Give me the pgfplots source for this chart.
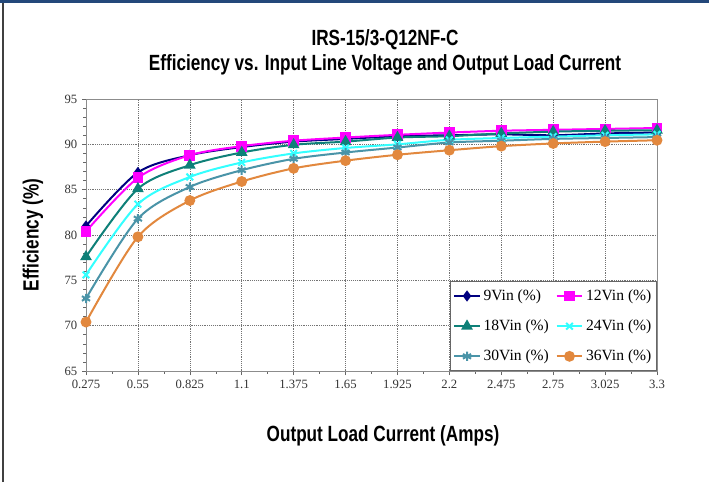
\documentclass[border=0pt]{standalone}
\usepackage{fontspec}
\setmainfont{Liberation Serif}
\newfontfamily\headfont{Liberation Sans}[FakeStretch=0.78]
\usepackage{pgfplots}
\pgfplotsset{compat=1.18}

\definecolor{v9}{HTML}{000080}
\definecolor{v12}{HTML}{FF00FF}
\definecolor{v18}{HTML}{0E8078}
\definecolor{v24}{HTML}{33FFFF}
\definecolor{v30}{HTML}{4A94A8}
\definecolor{v36}{HTML}{E2883E}
\definecolor{topbar}{HTML}{23487A}

\begin{document}
\begin{tikzpicture}
% page frame (709 x 482 px at 0.75pt/px)
\fill[white] (0,0) rectangle (531.75pt,361.5pt);
\fill[topbar] (0,359.25pt) rectangle (531.75pt,361.5pt);
\draw[line width=1.2pt,black!75] (2.4pt,0) -- (2.4pt,359.25pt);

\tikzset{head/.style={font=\headfont\bfseries\fontsize{16.5}{18}\selectfont}}
\node[head] at (288.75pt,331.5pt) {IRS-15/3-Q12NF-C};
\node[head] at (288.75pt,312.5pt) {Efficiency vs. Input Line Voltage and Output Load Current};
\node[head] at (287.25pt,34.5pt) {Output Load Current (Amps)};
\node[head,rotate=90] at (24.75pt,185.25pt) {Efficiency (\%)};

\begin{axis}[
  at={(64.5pt,83.25pt)}, anchor=south west,
  scale only axis, width=428.25pt, height=204pt,
  xmin=0.275, xmax=3.3, ymin=65, ymax=95,
  xtick={0.275,0.55,0.825,1.1,1.375,1.65,1.925,2.2,2.475,2.75,3.025,3.3},
  xticklabels={0.275,0.55,0.825,1.1,1.375,1.65,1.925,2.2,2.475,2.75,3.025,3.3},
  ytick={65,70,75,80,85,90,95},
  minor x tick num=1, minor y tick num=4,
  tick pos=left, tick align=outside,
  major tick length=3pt, minor tick length=2pt,
  tick style={black!60, thin},
  axis line style={black!45},
  grid=major, major grid style={densely dotted, black!55},
  tick label style={font=\fontsize{9.5}{11}\selectfont, text=black!80},
  /pgf/number format/assume math mode=true,
  legend columns=2,
  legend cell align=left,
  legend style={at={(1,0)}, anchor=south east,
    font=\fontsize{11.7}{13}\selectfont, draw=black!60, fill=white,
    inner xsep=2pt, inner ysep=4pt, row sep=9pt,
    /tikz/every even column/.append style={column sep=3pt}},
  legend image code/.code={\draw[mark repeat=2,mark phase=2]
    plot coordinates {(0cm,0cm) (0.34cm,0cm) (0.68cm,0cm)};},
  every axis plot/.append style={line width=1.5pt, smooth},
]
\addplot[v9, mark=diamond*, mark size=3pt] coordinates {
(0.275,81.0) (0.55,86.9) (0.825,88.8) (1.1,89.7) (1.375,90.3) (1.65,90.6)
(1.925,90.9) (2.2,91.0) (2.475,91.1) (2.75,91.0) (3.025,91.2) (3.3,91.3)};
\addlegendentry{9Vin (\%)}
\addplot[v12, mark=square*, mark size=3.3pt] coordinates {
(0.275,80.4) (0.55,86.3) (0.825,88.8) (1.1,89.8) (1.375,90.4) (1.65,90.75)
(1.925,91.05) (2.2,91.3) (2.475,91.5) (2.75,91.6) (3.025,91.7) (3.3,91.8)};
\addlegendentry{12Vin (\%)}
\addplot[v18, mark=triangle*, mark size=3.6pt] coordinates {
(0.275,77.6) (0.55,85.1) (0.825,87.7) (1.1,89.1) (1.375,89.95) (1.65,90.3)
(1.925,90.75) (2.2,90.9) (2.475,91.2) (2.75,91.4) (3.025,91.5) (3.3,91.55)};
\addlegendentry{18Vin (\%)}
\addplot[v24, mark=x, mark size=3.5pt] coordinates {
(0.275,75.6) (0.55,83.4) (0.825,86.4) (1.1,88.0) (1.375,89.0) (1.65,89.6)
(1.925,90.0) (2.2,90.5) (2.475,90.7) (2.75,90.85) (3.025,91.0) (3.3,91.1)};
\addlegendentry{24Vin (\%)}
\addplot[v30, mark=asterisk, mark size=3.5pt] coordinates {
(0.275,73.0) (0.55,81.8) (0.825,85.3) (1.1,87.15) (1.375,88.4) (1.65,89.1)
(1.925,89.65) (2.2,90.2) (2.475,90.4) (2.75,90.6) (3.025,90.7) (3.3,90.8)};
\addlegendentry{30Vin (\%)}
\addplot[v36, mark=*, mark size=3.3pt] coordinates {
(0.275,70.4) (0.55,79.8) (0.825,83.8) (1.1,85.9) (1.375,87.35) (1.65,88.2)
(1.925,88.85) (2.2,89.35) (2.475,89.8) (2.75,90.1) (3.025,90.3) (3.3,90.45)};
\addlegendentry{36Vin (\%)}
\end{axis}
\end{tikzpicture}
\end{document}
